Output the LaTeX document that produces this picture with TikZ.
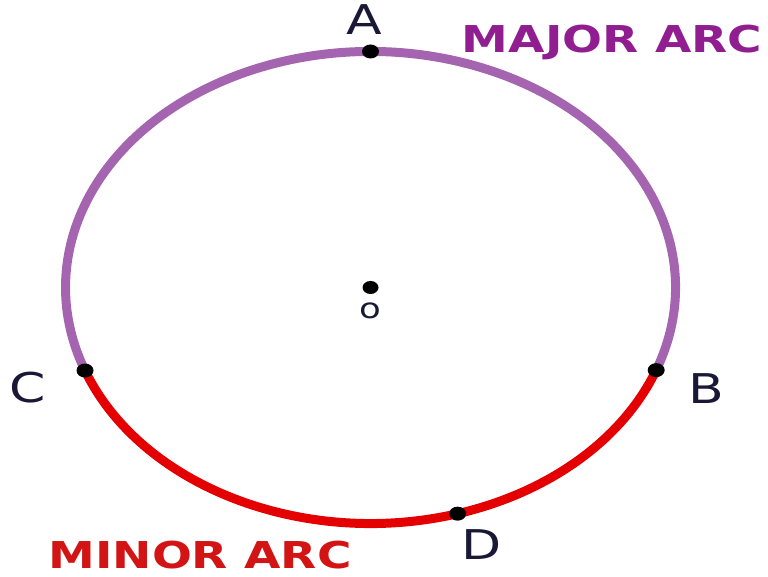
\documentclass[tikz,border=0pt]{standalone}
\usepackage{fontspec}
\usepackage{xcolor}
\usepackage{tikz}
\usetikzlibrary{shapes.geometric,positioning,calc}
\newfontfamily\arcfont[FakeStretch=1.27]{DejaVu Sans}
\definecolor{majorline}{RGB}{165,100,175}
\definecolor{majortext}{RGB}{145,30,145}
\definecolor{minorline}{RGB}{228,0,0}
\definecolor{minortext}{RGB}{210,20,20}
\definecolor{pointtext}{RGB}{25,25,55}

\begin{document}
\begin{tikzpicture}[
    x=1pt, y=1pt,
    dot/.style={ellipse, fill=black, inner sep=0pt, minimum width=17pt, minimum height=14pt},
    pointlabel/.style={font=\arcfont\fontsize{41}{44}\selectfont, text=pointtext, inner sep=0pt},
    arclabel/.style={font=\arcfont\bfseries\fontsize{37}{40}\selectfont, inner sep=0pt},
    arcline/.style={line width=9pt}
]
\useasboundingbox (0,0) rectangle (768,576);

% Centre
\coordinate (o) at (370.5,288.5);
\path (o) ++(90:305 and 236) coordinate (a);
\path (o) ++(-20.5:305 and 236) coordinate (b);
\path (o) ++(200.6:305 and 236) coordinate (c);
\path (o) ++(-73.4:305 and 236) coordinate (d);

% Major arc
\draw [arcline, majorline] (b) arc[start angle=-20.5, end angle=200.6, x radius=305, y radius=236];

% Minor arc
\draw [arcline, minorline] (c) arc[start angle=200.6, end angle=339.5, x radius=305, y radius=236];

% Points
\node [dot] (dota) at (a) {};
\node [dot] (dotb) at (b) {};
\node [dot] (dotc) at (c) {};
\node [dot] (dotd) at (d) {};
\node [dot, minimum width=16pt, minimum height=13pt] (doto) at (o) {};

% Labels
\node [pointlabel] (labela) at (364,556) {A};
\node [pointlabel] (labelb) at (706,187) {B};
\node [pointlabel] (labelc) at (28,188) {C};
\node [pointlabel] (labeld) at (482,31) {D};
\node [font=\arcfont\fontsize{28}{30}\selectfont, text=pointtext, inner sep=0pt] (labelo) at (370,265) {o};
\node [arclabel, text=majortext] (major) at (612,534) {MAJOR ARC};
\node [arclabel, text=minortext] (minor) at (200,21) {MINOR ARC};

\end{tikzpicture}
\end{document}
